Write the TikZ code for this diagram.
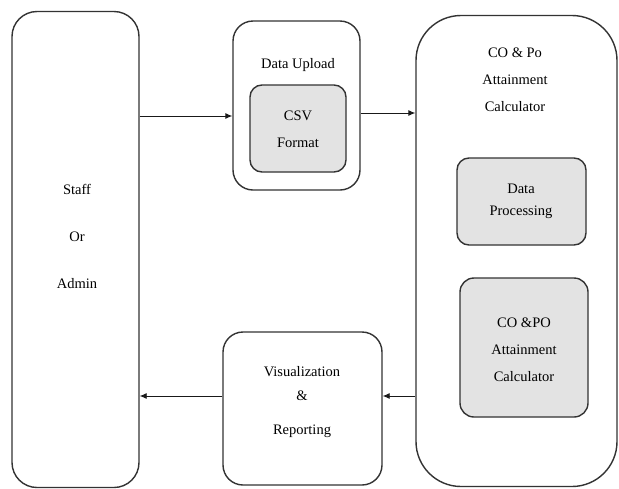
\documentclass[tikz,border=0pt]{standalone}
\usepackage{fontspec}
\setmainfont{Liberation Serif}
\usetikzlibrary{arrows.meta}
\begin{document}
\begin{tikzpicture}[x=1pt,y=-1pt,
  box/.style={draw=black!80,line width=1.4pt,inner sep=0pt},
  inbox/.style={box,fill=black!11},
  lbl/.style={font=\fontsize{14.5}{27}\selectfont,align=center,text=black,inner sep=0pt},
  conn/.style={draw=black!90,line width=0.9pt,-{Latex[length=7pt,width=6pt]}}]
\useasboundingbox (0,0) rectangle (619,488);
\fill[white] (0,0) rectangle (619,488);
% boxes
\node[box,rounded corners=25pt,minimum width=127pt,minimum height=476pt] (staff) at (75.5,249.5) {};
\node[box,rounded corners=20pt,minimum width=127pt,minimum height=169pt] (upload) at (296.5,105.5) {};
\node[inbox,rounded corners=12pt,minimum width=96pt,minimum height=87pt] (csv) at (298,128.5) {};
\node[box,rounded corners=45pt,minimum width=201pt,minimum height=471pt] (calc) at (516.5,251) {};
\node[inbox,rounded corners=12pt,minimum width=129pt,minimum height=87pt] (proc) at (521.5,201.5) {};
\node[inbox,rounded corners=14pt,minimum width=128pt,minimum height=139pt] (copo) at (524,347.5) {};
\node[box,rounded corners=20pt,minimum width=159pt,minimum height=153pt] (vis) at (302.5,408.5) {};
% texts
\node[lbl,font=\fontsize{14.5}{47}\selectfont] (stafft) at (77,236) {Staff\\Or\\Admin};
\node[lbl] (uploadt) at (298,65) {Data Upload};
\node[lbl] (csvt) at (298,129) {CSV\\Format};
\node[lbl] (calct) at (515,80) {CO \& Po\\Attainment\\Calculator};
\node[lbl,font=\fontsize{14.5}{22}\selectfont] (proct) at (521,201) {Data\\Processing};
\node[lbl] (copot) at (524,350) {CO \&PO\\Attainment\\Calculator};
\node[lbl,font=\fontsize{14.5}{24}\selectfont] (vist) at (302,402) {Visualization\\\&\\[10pt]Reporting};
% connectors
\coordinate (y1) at (0,116);
\coordinate (y2) at (0,113);
\coordinate (y3) at (0,396);
\draw[conn] (staff.east |- y1) -- (upload.west |- y1);
\draw[conn] (upload.east |- y2) -- (calc.west |- y2);
\draw[conn] (calc.west |- y3) -- (vis.east |- y3);
\draw[conn] (vis.west |- y3) -- (staff.east |- y3);
\end{tikzpicture}
\end{document}
